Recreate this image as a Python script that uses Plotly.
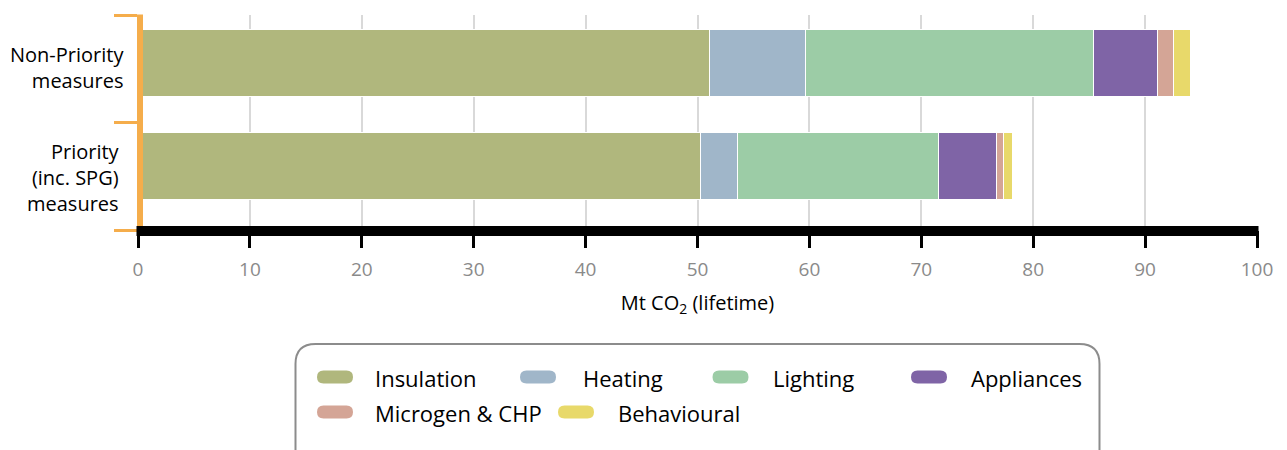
import plotly.graph_objects as go

# ---- data ----
categories = ["Priority<br>(inc. SPG)<br>measures", "Non-Priority<br>measures"]
series_names = ["Insulation", "Heating", "Lighting", "Appliances", "Microgen & CHP", "Behavioural"]
insulation = [50.3, 51.1]
heating = [3.3, 8.55]
lighting = [17.9, 25.75]
appliances = [5.25, 5.7]
microgen = [0.6, 1.4]
behavioural = [0.8, 1.6]
x_ticks = [0, 10, 20, 30, 40, 50, 60, 70, 80, 90, 100]
x_title = "Mt CO<sub>2</sub> (lifetime)"

# ---- styles ----
colors = ["#b0b77d", "#a0b6c9", "#9ccca6", "#7f64a6", "#d4a596", "#e8d96a"]
ORANGE = "#f5ad4b"
FONT = "Open Sans"
BAR_WIDTH = 0.623
BAR_SHIFT = [0.095, 0.054]   # upward shift of each bar within its band (category units)

W, H = 1287, 450
ML, MR, MT, MB = 138, 30, 15, 220
PW, PH = W - ML - MR, H - MT - MB


def px_x(p):
    return (p - ML) / PW


def px_y(p):
    return (H - MB - p) / PH


values = [insulation, heating, lighting, appliances, microgen, behavioural]
offsets = [s - BAR_WIDTH / 2 for s in BAR_SHIFT]

fig = go.Figure()
for name, vals, col in zip(series_names, values, colors):
    fig.add_trace(go.Bar(
        y=categories, x=vals, name=name, orientation="h",
        width=BAR_WIDTH, offset=offsets,
        marker=dict(color=col, line=dict(color="white", width=1)),
        showlegend=False,
    ))

shapes = []
# orange vertical axis bar
shapes.append(dict(type="rect", xref="paper", yref="paper",
                   x0=px_x(137), x1=px_x(143), y0=px_y(226), y1=px_y(14.5),
                   fillcolor=ORANGE, line=dict(width=0), layer="above"))
# thick black x axis bar
shapes.append(dict(type="rect", xref="paper", yref="paper",
                   x0=px_x(136.5), x1=px_x(1258.5), y0=px_y(236), y1=px_y(226),
                   fillcolor="black", line=dict(width=0), layer="above"))

# legend box with rounded corners (layout positions in px)
bx0, bx1, by0, by1, r = 295.5, 1099.5, 344, 480, 20


def P(x, y):
    return f"{px_x(x):.6f},{px_y(y):.6f}"


path = (f"M {P(bx0 + r, by0)} L {P(bx1 - r, by0)} Q {P(bx1, by0)} {P(bx1, by0 + r)} "
        f"L {P(bx1, by1 - r)} Q {P(bx1, by1)} {P(bx1 - r, by1)} "
        f"L {P(bx0 + r, by1)} Q {P(bx0, by1)} {P(bx0, by1 - r)} "
        f"L {P(bx0, by0 + r)} Q {P(bx0, by0)} {P(bx0 + r, by0)} Z")
shapes.append(dict(type="path", xref="paper", yref="paper", path=path,
                   line=dict(color="#8c8c8c", width=2), fillcolor="rgba(0,0,0,0)"))

annotations = []

# category labels (right edge px per category, vertical shift px, + = down)
label_right = [122, 126]
label_dy = [1.5, -1]
for cat, rx, dy in zip(categories, label_right, label_dy):
    annotations.append(dict(text=cat, xref="paper", yref="y", x=px_x(rx), y=cat,
                            xanchor="right", yanchor="middle", align="right", showarrow=False,
                            yshift=-dy, font=dict(family=FONT, size=20, color="black")))

# legend entries: swatch left x, text left x, row centre y (px)
legend_pos = [(317, 374, 377), (520, 582, 377), (712.5, 772, 377), (911, 970, 377),
              (317, 374, 412), (558, 617, 412)]
sw, sh = 36, 13
for name, col, (sx, tx, cy) in zip(series_names, colors, legend_pos):
    rr = sh / 2
    x0, x1, y0, y1 = sx, sx + sw, cy - sh / 2, cy + sh / 2
    p = (f"M {P(x0 + rr, y0)} L {P(x1 - rr, y0)} Q {P(x1, y0)} {P(x1, cy)} "
         f"Q {P(x1, y1)} {P(x1 - rr, y1)} L {P(x0 + rr, y1)} Q {P(x0, y1)} {P(x0, cy)} "
         f"Q {P(x0, y0)} {P(x0 + rr, y0)} Z")
    shapes.append(dict(type="path", xref="paper", yref="paper", path=p,
                       fillcolor=col, line=dict(width=0)))
    annotations.append(dict(text=name, xref="paper", yref="paper", x=px_x(tx - 1), y=px_y(cy + 1),
                            xanchor="left", yanchor="middle", showarrow=False,
                            font=dict(family=FONT, size=22, color="black")))

fig.update_layout(
    width=W, height=H,
    margin=dict(l=ML, r=MR, t=MT, b=MB, pad=0),
    barmode="stack",
    plot_bgcolor="white", paper_bgcolor="white",
    font=dict(family=FONT, size=19, color="black"),
    xaxis=dict(range=[0, 100], tickvals=x_ticks, showgrid=True, gridcolor="#d9d9d9", gridwidth=2,
               zeroline=False, showline=False, ticks="outside", ticklen=17, tickwidth=3,
               tickcolor="black", tickfont=dict(size=19, color="#8a8a8a"), ticklabelstandoff=5,
               title=dict(text=x_title, font=dict(size=20, color="black"), standoff=15)),
    yaxis=dict(categoryorder="array", categoryarray=categories, range=[-0.5, 1.5],
               showgrid=False, zeroline=False, showline=False, ticks="outside", ticklen=23,
               tickwidth=3, tickcolor=ORANGE, tickson="boundaries", showticklabels=False),
    shapes=shapes, annotations=annotations,
)

fig.write_html("out.html", config={"displayModeBar": False},
               post_script="document.body.style.margin='0px';")
